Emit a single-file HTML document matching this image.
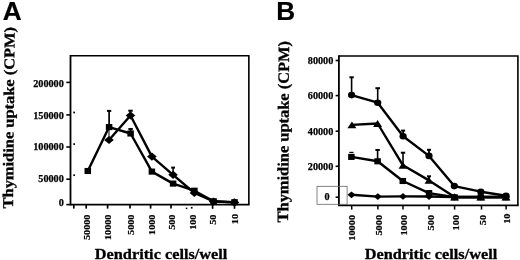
<!DOCTYPE html>
<html><head><meta charset="utf-8"><title>Figure</title>
<style>
html,body{margin:0;padding:0;background:#fff;}
svg{display:block;}
text{fill:#000;stroke:#000;stroke-width:0.3px;}
.tk{font-family:"Liberation Serif",serif;font-weight:bold;font-size:10.2px;stroke-width:0.25px;}
.tkr{font-family:"Liberation Serif",serif;font-weight:bold;font-size:9px;stroke-width:0.2px;}
.ax{font-family:"Liberation Serif",serif;font-weight:bold;font-size:15px;}
.pl{font-family:"Liberation Sans",sans-serif;font-weight:bold;font-size:26.2px;stroke-width:0.2px;}
</style></head><body>
<svg width="520" height="260" viewBox="0 0 520 260">
<rect width="520" height="260" fill="#fff"/>

<text x="2.7" y="20.3" class="pl">A</text>
<text x="276.2" y="20.2" class="pl">B</text>
<g id="plotA">
<path d="M70.5,55.75 H248.85 V204.6" fill="none" stroke="#000" stroke-width="1.6"/>
<path d="M70.5,55 V204.6 H249.6" fill="none" stroke="#000" stroke-width="1.8"/>
<line x1="66.3" y1="82.4" x2="70.5" y2="82.4" stroke="#000" stroke-width="1.6"/>
<line x1="66.3" y1="114.9" x2="70.5" y2="114.9" stroke="#000" stroke-width="1.6"/>
<line x1="66.3" y1="147.0" x2="70.5" y2="147.0" stroke="#000" stroke-width="1.6"/>
<line x1="66.3" y1="179.2" x2="70.5" y2="179.2" stroke="#000" stroke-width="1.6"/>
<line x1="66.3" y1="204.6" x2="70.5" y2="204.6" stroke="#000" stroke-width="1.6"/>
<text x="63.8" y="86.80" text-anchor="end" class="tk">200000</text>
<text x="63.8" y="119.00" text-anchor="end" class="tk">150000</text>
<text x="63.8" y="150.30" text-anchor="end" class="tk">100000</text>
<text x="63.8" y="181.60" text-anchor="end" class="tk">50000</text>
<text x="63.8" y="206.00" text-anchor="end" class="tk">0</text>
<rect x="73.3" y="111.65" width="1.7" height="1.7"/>
<rect x="73.3" y="143.25" width="1.7" height="1.7"/>
<rect x="73.3" y="174.35" width="1.7" height="1.7"/>
<line x1="73.8" y1="204.6" x2="73.8" y2="208.6" stroke="#000" stroke-width="1.7"/>
<line x1="86.2" y1="204.6" x2="86.2" y2="208.6" stroke="#000" stroke-width="1.7"/>
<line x1="107.6" y1="204.6" x2="107.6" y2="208.6" stroke="#000" stroke-width="1.7"/>
<line x1="130" y1="204.6" x2="130" y2="208.6" stroke="#000" stroke-width="1.7"/>
<line x1="150.6" y1="204.6" x2="150.6" y2="208.6" stroke="#000" stroke-width="1.7"/>
<line x1="171" y1="204.6" x2="171" y2="208.6" stroke="#000" stroke-width="1.7"/>
<line x1="191.7" y1="206.9" x2="191.7" y2="208.6" stroke="#000" stroke-width="1.7"/>
<line x1="212.6" y1="204.6" x2="212.6" y2="208.8" stroke="#000" stroke-width="1.7"/>
<line x1="234.5" y1="204.6" x2="234.5" y2="208.8" stroke="#000" stroke-width="1.7"/>
<rect x="185.8" y="207.6" width="1.5" height="1.5"/>
<text transform="translate(89.80,214.6) rotate(-90) scale(1.13,1)" text-anchor="end" class="tkr">50000</text>
<text transform="translate(110.90,214.6) rotate(-90) scale(1.13,1)" text-anchor="end" class="tkr">10000</text>
<text transform="translate(133.70,214.6) rotate(-90) scale(1.13,1)" text-anchor="end" class="tkr">5000</text>
<text transform="translate(154.80,214.6) rotate(-90) scale(1.13,1)" text-anchor="end" class="tkr">1000</text>
<text transform="translate(174.50,214.6) rotate(-90) scale(1.13,1)" text-anchor="end" class="tkr">500</text>
<text transform="translate(196.40,214.6) rotate(-90) scale(1.13,1)" text-anchor="end" class="tkr">100</text>
<text transform="translate(215.70,214.6) rotate(-90) scale(1.13,1)" text-anchor="end" class="tkr">50</text>
<text transform="translate(238.30,214.0) rotate(-90) scale(1.13,1)" text-anchor="end" class="tkr">10</text>
<polyline fill="none" stroke="#000" stroke-width="2.4" stroke-linejoin="round" points="87.80,171.00 109.10,127.10 130.60,133.50 151.90,171.60 173.10,183.60 194.40,190.70 213.60,201.30 234.50,202.20"/>
<polyline fill="none" stroke="#000" stroke-width="2.4" stroke-linejoin="round" points="109.00,140.00 130.50,115.50 151.90,156.60 173.10,174.80 194.40,193.00 213.60,201.50 234.50,202.40"/>
<line x1="109.10" y1="127.10" x2="109.10" y2="110.90" stroke="#000" stroke-width="1.7"/><line x1="106.95" y1="110.90" x2="111.25" y2="110.90" stroke="#000" stroke-width="2"/>
<line x1="109" y1="129" x2="109" y2="138" stroke="#000" stroke-width="1"/>
<line x1="130.50" y1="115.50" x2="130.50" y2="110.70" stroke="#000" stroke-width="1.8"/><line x1="128.30" y1="110.70" x2="132.70" y2="110.70" stroke="#000" stroke-width="2"/>
<line x1="130.60" y1="133.50" x2="130.60" y2="129.00" stroke="#000" stroke-width="1.8"/><line x1="128.40" y1="129.00" x2="132.80" y2="129.00" stroke="#000" stroke-width="2"/>
<line x1="173.10" y1="174.80" x2="173.10" y2="167.60" stroke="#000" stroke-width="1.5"/><line x1="171.20" y1="167.60" x2="175.00" y2="167.60" stroke="#000" stroke-width="2"/>
<rect x="84.55" y="167.95" width="6.5" height="6.1"/>
<rect x="105.85" y="124.05" width="6.5" height="6.1"/>
<rect x="127.35" y="130.45" width="6.5" height="6.1"/>
<rect x="148.65" y="168.55" width="6.5" height="6.1"/>
<rect x="169.85" y="180.55" width="6.5" height="6.1"/>
<rect x="191.15" y="187.65" width="6.5" height="6.1"/>
<rect x="210.35" y="198.25" width="6.5" height="6.1"/>
<rect x="231.25" y="199.15" width="6.5" height="6.1"/>
<polygon points="104.20,140.00 109.00,135.90 113.80,140.00 109.00,144.10"/>
<polygon points="125.70,115.50 130.50,111.40 135.30,115.50 130.50,119.60"/>
<polygon points="147.10,156.60 151.90,152.50 156.70,156.60 151.90,160.70"/>
<polygon points="168.30,174.80 173.10,170.70 177.90,174.80 173.10,178.90"/>
<polygon points="189.60,193.00 194.40,188.90 199.20,193.00 194.40,197.10"/>
<polygon points="208.80,201.50 213.60,197.40 218.40,201.50 213.60,205.60"/>
<polygon points="229.70,202.40 234.50,198.30 239.30,202.40 234.50,206.50"/>
<text transform="translate(13.0,208.4) rotate(-89.5)" class="ax" textLength="181.4" lengthAdjust="spacingAndGlyphs">Thymidine uptake (CPM)</text>
<text x="94.8" y="258.8" class="ax" style="font-size:15px" textLength="132.6" lengthAdjust="spacingAndGlyphs">Dendritic cells/well</text>
</g>
<g id="plotB">
<path d="M338.9,56 H517.9 V205.4" fill="none" stroke="#000" stroke-width="1.6"/>
<path d="M338.9,55.3 V205.4 H518.6" fill="none" stroke="#000" stroke-width="1.8"/>
<rect x="317.0" y="186.3" width="30.1" height="18.0" fill="none" stroke="#666" stroke-width="0.8"/>
<line x1="335.6" y1="60.5" x2="338.9" y2="60.5" stroke="#000" stroke-width="1.6"/>
<line x1="335.6" y1="95.6" x2="338.9" y2="95.6" stroke="#000" stroke-width="1.6"/>
<line x1="335.6" y1="131.2" x2="338.9" y2="131.2" stroke="#000" stroke-width="1.6"/>
<line x1="335.6" y1="166.3" x2="338.9" y2="166.3" stroke="#000" stroke-width="1.6"/>
<line x1="335.6" y1="197.2" x2="338.9" y2="197.2" stroke="#000" stroke-width="1.6"/>
<text x="333.3" y="64.30" text-anchor="end" class="tk">80000</text>
<text x="333.3" y="99.40" text-anchor="end" class="tk">60000</text>
<text x="333.3" y="134.80" text-anchor="end" class="tk">40000</text>
<text x="333.3" y="170.20" text-anchor="end" class="tk">20000</text>
<text x="329.6" y="200.00" text-anchor="end" class="tk">0</text>
<line x1="351.7" y1="205.4" x2="351.7" y2="209.6" stroke="#000" stroke-width="1.5"/>
<line x1="377.9" y1="205.4" x2="377.9" y2="209.6" stroke="#000" stroke-width="1.5"/>
<line x1="403" y1="205.4" x2="403" y2="209.6" stroke="#000" stroke-width="1.5"/>
<line x1="429" y1="205.4" x2="429" y2="209.6" stroke="#000" stroke-width="1.5"/>
<line x1="454.6" y1="205.4" x2="454.6" y2="209.6" stroke="#000" stroke-width="1.5"/>
<line x1="481.5" y1="205.4" x2="481.5" y2="209.6" stroke="#000" stroke-width="1.5"/>
<line x1="506.1" y1="205.4" x2="506.1" y2="209.6" stroke="#000" stroke-width="1.5"/>
<text transform="translate(355.20,214.9) rotate(-90) scale(1.15,1)" text-anchor="end" class="tkr">10000</text>
<text transform="translate(382.10,214.9) rotate(-90) scale(1.15,1)" text-anchor="end" class="tkr">5000</text>
<text transform="translate(407.10,214.9) rotate(-90) scale(1.15,1)" text-anchor="end" class="tkr">1000</text>
<text transform="translate(433.50,214.9) rotate(-90) scale(1.15,1)" text-anchor="end" class="tkr">500</text>
<text transform="translate(458.70,214.9) rotate(-90) scale(1.15,1)" text-anchor="end" class="tkr">100</text>
<text transform="translate(485.50,214.9) rotate(-90) scale(1.15,1)" text-anchor="end" class="tkr">50</text>
<text transform="translate(510.10,213.5) rotate(-90) scale(1.15,1)" text-anchor="end" class="tkr">10</text>
<polyline fill="none" stroke="#000" stroke-width="2.4" stroke-linejoin="round" points="351.60,95.10 377.70,102.70 403.10,136.30 429.00,155.90 454.30,186.10 480.80,191.70 506.00,195.80"/>
<polyline fill="none" stroke="#000" stroke-width="2.4" stroke-linejoin="round" points="351.90,124.90 377.60,123.50 403.00,165.30 429.00,180.40 454.60,197.00 480.80,197.00 506.00,197.00"/>
<polyline fill="none" stroke="#000" stroke-width="2.4" stroke-linejoin="round" points="351.40,156.90 377.60,161.30 402.80,181.00 429.00,193.10 454.60,197.30 480.80,197.30 506.00,197.30"/>
<polyline fill="none" stroke="#000" stroke-width="2.4" stroke-linejoin="round" points="351.50,194.80 377.80,196.60 403.00,196.40 429.00,196.50 454.60,197.00 480.80,197.00 506.00,197.00"/>
<line x1="351.60" y1="95.10" x2="351.60" y2="77.30" stroke="#000" stroke-width="1.6"/><line x1="349.40" y1="77.30" x2="353.80" y2="77.30" stroke="#000" stroke-width="2"/>
<line x1="377.70" y1="102.70" x2="377.70" y2="88.20" stroke="#000" stroke-width="1.6"/><line x1="375.40" y1="88.20" x2="380.00" y2="88.20" stroke="#000" stroke-width="2"/>
<line x1="403.10" y1="136.30" x2="403.10" y2="130.60" stroke="#000" stroke-width="1.8"/><line x1="401.10" y1="130.60" x2="405.10" y2="130.60" stroke="#000" stroke-width="2"/>
<line x1="429.00" y1="155.80" x2="429.00" y2="149.80" stroke="#000" stroke-width="1.8"/><line x1="427.00" y1="149.80" x2="431.00" y2="149.80" stroke="#000" stroke-width="2"/>
<line x1="349.3" y1="152.4" x2="353.5" y2="152.4" stroke="#000" stroke-width="1.2"/>
<line x1="377.60" y1="161.30" x2="377.60" y2="150.00" stroke="#000" stroke-width="1.6"/><line x1="375.40" y1="150.00" x2="379.80" y2="150.00" stroke="#000" stroke-width="2"/>
<line x1="403.00" y1="165.30" x2="403.00" y2="152.70" stroke="#000" stroke-width="1.6"/><line x1="400.80" y1="152.70" x2="405.20" y2="152.70" stroke="#000" stroke-width="2"/>
<line x1="429.00" y1="180.40" x2="429.00" y2="176.30" stroke="#000" stroke-width="1.8"/><line x1="427.00" y1="176.30" x2="431.00" y2="176.30" stroke="#000" stroke-width="2"/>
<ellipse cx="351.60" cy="95.10" rx="3.6" ry="3.3"/>
<ellipse cx="377.70" cy="102.70" rx="3.6" ry="3.3"/>
<ellipse cx="403.10" cy="136.30" rx="3.6" ry="3.3"/>
<ellipse cx="429.00" cy="155.90" rx="3.6" ry="3.3"/>
<ellipse cx="454.30" cy="186.10" rx="3.6" ry="3.3"/>
<ellipse cx="480.80" cy="191.70" rx="3.6" ry="3.3"/>
<ellipse cx="506.00" cy="195.80" rx="3.6" ry="3.3"/>
<polygon points="347.40,128.30 351.90,121.50 356.40,128.30"/>
<polygon points="373.10,126.90 377.60,120.10 382.10,126.90"/>
<polygon points="398.50,168.70 403.00,161.90 407.50,168.70"/>
<polygon points="424.50,183.80 429.00,177.00 433.50,183.80"/>
<polygon points="450.10,200.40 454.60,193.60 459.10,200.40"/>
<polygon points="476.30,200.40 480.80,193.60 485.30,200.40"/>
<polygon points="501.50,200.40 506.00,193.60 510.50,200.40"/>
<rect x="348.15" y="153.85" width="6.5" height="6.1"/>
<rect x="374.35" y="158.25" width="6.5" height="6.1"/>
<rect x="399.55" y="177.95" width="6.5" height="6.1"/>
<rect x="425.75" y="190.05" width="6.5" height="6.1"/>
<rect x="451.35" y="194.25" width="6.5" height="6.1"/>
<rect x="477.55" y="194.25" width="6.5" height="6.1"/>
<rect x="502.75" y="194.25" width="6.5" height="6.1"/>
<polygon points="347.50,194.80 351.50,191.40 355.50,194.80 351.50,198.20"/>
<polygon points="373.80,196.60 377.80,193.20 381.80,196.60 377.80,200.00"/>
<polygon points="399.00,196.40 403.00,193.00 407.00,196.40 403.00,199.80"/>
<polygon points="425.00,196.50 429.00,193.10 433.00,196.50 429.00,199.90"/>
<polygon points="450.60,197.00 454.60,193.60 458.60,197.00 454.60,200.40"/>
<polygon points="476.80,197.00 480.80,193.60 484.80,197.00 480.80,200.40"/>
<polygon points="502.00,197.00 506.00,193.60 510.00,197.00 506.00,200.40"/>
<text transform="translate(288.1,222.4) rotate(-89.7)" class="ax" style="font-size:15.8px" textLength="181.4" lengthAdjust="spacingAndGlyphs">Thymidine uptake (CPM)</text>
<text x="364.8" y="258.6" class="ax" style="font-size:15px" textLength="132.4" lengthAdjust="spacingAndGlyphs">Dendritic cells/well</text>
</g>
</svg></body></html>
